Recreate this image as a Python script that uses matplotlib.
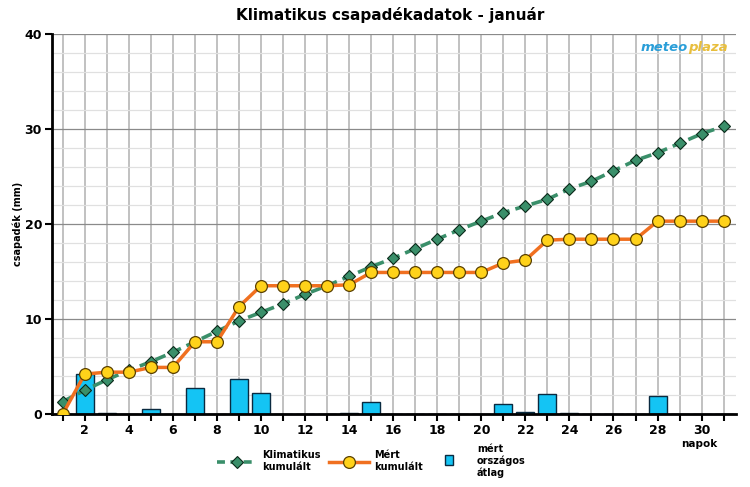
import numpy as np
import matplotlib.pyplot as plt
from matplotlib.lines import Line2D
from matplotlib.patches import Patch

days = list(range(1, 32))

# climatological cumulative precipitation (mm)
klim_kum = [1.3, 2.5, 3.6, 4.6, 5.5, 6.5, 7.6, 8.7, 9.8, 10.7,
            11.6, 12.6, 13.5, 14.5, 15.5, 16.4, 17.4, 18.4, 19.4, 20.3,
            21.2, 21.9, 22.6, 23.7, 24.5, 25.6, 26.7, 27.5, 28.5, 29.5, 30.3]

# measured cumulative precipitation (mm)
mert_kum = [0.0, 4.2, 4.4, 4.4, 4.9, 4.9, 7.6, 7.6, 11.3, 13.5,
            13.5, 13.5, 13.5, 13.6, 14.9, 14.9, 14.9, 14.9, 14.9, 14.9,
            15.9, 16.2, 18.3, 18.4, 18.4, 18.4, 18.4, 20.3, 20.3, 20.3, 20.3]

# measured national daily mean (mm)
napi_atlag = [0.0, 4.2, 0.15, 0.0, 0.5, 0.0, 2.7, 0.0, 3.7, 2.2,
              0.0, 0.0, 0.0, 0.05, 1.3, 0.0, 0.0, 0.0, 0.0, 0.0,
              1.0, 0.25, 2.1, 0.05, 0.0, 0.0, 0.0, 1.9, 0.0, 0.0, 0.0]

day_labels = [str(d) if d % 2 == 0 else '' for d in days]

green = '#3a8f6a'
orange = '#f07020'
yellow = '#ffd21a'
cyan = '#14c4f4'

fig = plt.figure(figsize=(7.5, 4.87), dpi=100)
ax = fig.add_axes([0.069, 0.150, 0.912, 0.780])

# grid
ax.set_xticks(days, labels=day_labels)
ax.set_yticks(np.arange(0, 41, 2), minor=True)
ax.set_yticks([0, 10, 20, 30, 40])
ax.grid(True, which='minor', axis='y', color='#e0e0e0', lw=0.9)
ax.grid(True, which='major', axis='y', color='#8a8a8a', lw=0.9)
ax.grid(True, which='major', axis='x', color='#b0b0b0', lw=1.1)
ax.set_axisbelow(True)

ax.bar(days, napi_atlag, width=0.82, color=cyan, edgecolor='#0a2a40', lw=1.0, zorder=2)
ax.plot(days, klim_kum, color=green, lw=2.6, ls=(0, (3, 1.7)), marker='D', ms=6,
        mfc=green, mec='#0a2a1a', mew=0.8, zorder=3)
ax.plot(days, mert_kum, color=orange, lw=2.5, marker='o', ms=8.5,
        mfc=yellow, mec='#5a4000', mew=0.9, zorder=4)

ax.set_xlim(0.5, 31.55)
ax.set_ylim(0, 40)
for s in ['top', 'right']:
    ax.spines[s].set_visible(False)
for s in ['left', 'bottom']:
    ax.spines[s].set_linewidth(2)
ax.tick_params(axis='both', which='major', length=5, width=1.5, labelsize=9, pad=2)
ax.tick_params(axis='y', which='minor', length=0)
for lab in ax.get_xticklabels() + ax.get_yticklabels():
    lab.set_fontweight('bold')

fig.text(0.024, 0.54, 'csapadék (mm)', fontsize=7, fontweight='bold',
         rotation=90, ha='center', va='center')
fig.text(0.933, 0.082, 'napok', fontsize=7.5, fontweight='bold', ha='center')
fig.suptitle('Klimatikus csapadékadatok - január', x=0.52, y=0.985,
             fontsize=11, fontweight='bold')

# logo
ax.text(0.93, 0.964, 'meteo', transform=ax.transAxes, ha='right', va='center',
        fontsize=9.5, fontweight='bold', style='italic', color='#2a9ed8')
ax.text(0.93, 0.964, 'plaza', transform=ax.transAxes, ha='left', va='center',
        fontsize=9.5, fontweight='bold', style='italic', color='#e8be3c')

handles = [
    Line2D([0], [0], color=green, lw=2.6, ls=(0, (2.2, 1.5)), marker='D', ms=6,
           mfc=green, mec='#0a2a1a', mew=0.8),
    Line2D([0], [0], color=orange, lw=2.5, marker='o', ms=8.5,
           mfc=yellow, mec='#5a4000', mew=0.9),
    Patch(facecolor=cyan, edgecolor='#0a2a40'),
]
labels = ['Klimatikus\nkumulált', 'Mért\nkumulált', 'mért\nországos\nátlag']
leg = fig.legend(handles, labels, loc='center', bbox_to_anchor=(0.495, 0.053),
                 ncol=3, frameon=False, fontsize=7, handlelength=4.1,
                 columnspacing=0.8, handletextpad=0.6)
for t in leg.get_texts():
    t.set_fontweight('bold')
sq = leg.legend_handles[2]
sq.set_width(6)
sq.set_height(7.5)
sq.set_x(sq.get_x() + 10)

fig.savefig('out.png', dpi=100)
